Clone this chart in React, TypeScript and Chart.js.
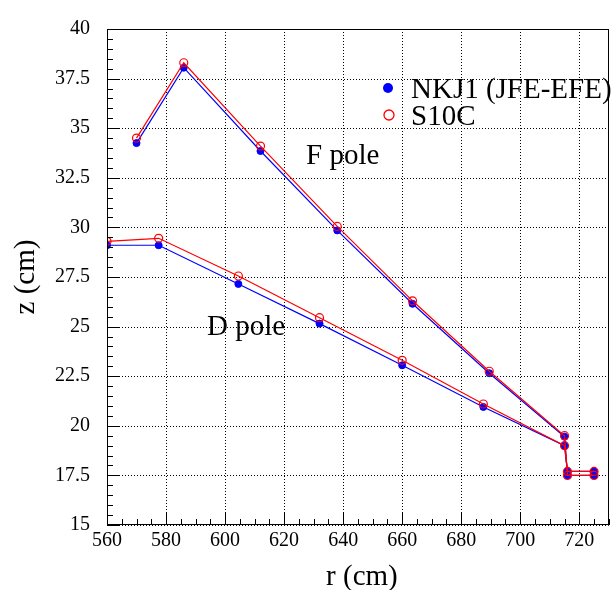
import React, { useEffect, useRef } from "react";
import { Chart, registerables } from "chart.js";

Chart.register(...registerables);

// r positions (cm) of the pole-face profile points
const rFPole = [570, 586, 612, 638, 663.5, 689.5, 715, 716, 725];
const rDPole = [560, 577.5, 604.5, 632, 660, 687.5, 715, 716, 725];

// z (cm) for each magnet type
const zFPoleNKJ1 = [34.25, 38.05, 33.85, 29.85, 26.15, 22.65, 19.45, 17.5, 17.5];
const zFPoleS10C = [34.5, 38.3, 34.1, 30.05, 26.3, 22.75, 19.5, 17.5, 17.5];
const zDPoleNKJ1 = [29.1, 29.1, 27.15, 25.15, 23.05, 20.95, 19.0, 17.7, 17.7];
const zDPoleS10C = [29.3, 29.45, 27.55, 25.45, 23.3, 21.1, 19.0, 17.7, 17.7];

const seriesNames = ["NKJ1 (JFE-EFE)", "S10C"];
const poleLabels = ["F pole", "D pole"];

const xTickValues = [560, 580, 600, 620, 640, 660, 680, 700, 720];
const yTickValues = [15, 17.5, 20, 22.5, 25, 27.5, 30, 32.5, 35, 37.5, 40];

const X_MIN = 560;
const X_MAX = 730;
const Y_MIN = 15;
const Y_MAX = 40;

const FONT = '"Liberation Serif", "Times New Roman", serif';
const BLUE = "#0000ff";
const RED = "#ff0000";

const toPoints = (xs: number[], ys: number[]) => xs.map((x, i) => ({ x, y: ys[i] }));

const decorPlugin = {
  id: "decor",
  beforeDatasetsDraw(chart: any) {
    const { ctx, chartArea: a, scales } = chart;
    const xs = scales.x;
    const ys = scales.y;
    ctx.save();
    ctx.strokeStyle = "#000";
    ctx.lineWidth = 1;
    ctx.setLineDash([1, 2]);
    for (const v of xTickValues) {
      const px = Math.round(xs.getPixelForValue(v)) + 0.5;
      ctx.beginPath();
      ctx.moveTo(px, a.top);
      ctx.lineTo(px, a.bottom);
      ctx.stroke();
    }
    for (const v of yTickValues) {
      const py = Math.round(ys.getPixelForValue(v)) + 0.5;
      ctx.beginPath();
      ctx.moveTo(a.left, py);
      ctx.lineTo(a.right, py);
      ctx.stroke();
    }
    ctx.restore();
  },
  afterDraw(chart: any) {
    const { ctx, chartArea: a, scales } = chart;
    const xs = scales.x;
    const ys = scales.y;
    ctx.save();
    ctx.setLineDash([]);
    ctx.strokeStyle = "#000";
    ctx.lineWidth = 1;

    // frame
    ctx.strokeRect(Math.round(a.left) + 0.5, Math.round(a.top) + 0.5,
      Math.round(a.right - a.left) - 1, Math.round(a.bottom - a.top) - 1);

    // inward ticks on the bottom axis (every 5 cm)
    for (let i = 0; X_MIN + i * 5 <= X_MAX; i++) {
      const v = X_MIN + i * 5;
      const major = xTickValues.includes(v);
      const px = Math.round(xs.getPixelForValue(v)) + 0.5;
      const len = major ? 12 : 6;
      ctx.beginPath();
      ctx.moveTo(px, a.bottom);
      ctx.lineTo(px, a.bottom - len);
      ctx.stroke();
    }
    // inward ticks on the left axis (every 0.5 cm)
    for (let i = 0; Y_MIN + i * 0.5 <= Y_MAX + 1e-9; i++) {
      const v = Y_MIN + i * 0.5;
      const major = yTickValues.some((t) => Math.abs(t - v) < 1e-6);
      const py = Math.round(ys.getPixelForValue(v)) + 0.5;
      const len = major ? 12 : 6;
      ctx.beginPath();
      ctx.moveTo(a.left, py);
      ctx.lineTo(a.left + len, py);
      ctx.stroke();
    }

    // axis titles
    ctx.fillStyle = "#000";
    ctx.font = `29px ${FONT}`;
    ctx.textAlign = "center";
    ctx.textBaseline = "alphabetic";
    ctx.fillText("r (cm)", (a.left + a.right) / 2 + 4, 585);
    ctx.save();
    ctx.translate(34, (a.top + a.bottom) / 2);
    ctx.rotate(-Math.PI / 2);
    ctx.fillText("z (cm)", 0, 0);
    ctx.restore();

    // legend
    ctx.textAlign = "left";
    ctx.beginPath();
    ctx.arc(388, 88, 5, 0, Math.PI * 2);
    ctx.fillStyle = BLUE;
    ctx.fill();
    ctx.beginPath();
    ctx.arc(389, 115, 5, 0, Math.PI * 2);
    ctx.strokeStyle = RED;
    ctx.lineWidth = 1.3;
    ctx.stroke();
    ctx.fillStyle = "#000";
    ctx.fillText(seriesNames[0], 411, 98);
    ctx.fillText(seriesNames[1], 411, 125);

    // pole annotations
    ctx.fillText(poleLabels[0], 306, 164);
    ctx.fillText(poleLabels[1], 207, 335);
    ctx.restore();
  },
};

export default function App() {
  const canvasRef = useRef<HTMLCanvasElement | null>(null);

  useEffect(() => {
    const canvas = canvasRef.current;
    if (!canvas) return;
    const lineDs = (label: string, xs: number[], ys: number[], color: string, filled: boolean) => ({
      label,
      data: toPoints(xs, ys),
      showLine: true,
      borderColor: color,
      backgroundColor: filled ? color : "rgba(0,0,0,0)",
      borderWidth: 1.2,
      pointRadius: filled ? 3.5 : 4,
      pointBorderWidth: filled ? 1 : 1.2,
      pointBorderColor: color,
      pointBackgroundColor: filled ? color : "rgba(0,0,0,0)",
      tension: 0,
    });

    const chart = new Chart(canvas, {
      type: "scatter",
      data: {
        datasets: [
          lineDs(seriesNames[1], rFPole, zFPoleS10C, RED, false),
          lineDs(seriesNames[1], rDPole, zDPoleS10C, RED, false),
          lineDs(seriesNames[0], rFPole, zFPoleNKJ1, BLUE, true),
          lineDs(seriesNames[0], rDPole, zDPoleNKJ1, BLUE, true),
        ],
      },
      options: {
        animation: false,
        responsive: false,
        maintainAspectRatio: false,
        devicePixelRatio: 1,
        layout: { padding: { left: 0, right: 3, top: 20, bottom: 0 } },
        plugins: {
          legend: { display: false },
          tooltip: { enabled: false },
        },
        scales: {
          x: {
            type: "linear",
            min: X_MIN,
            max: X_MAX,
            grid: { display: false, drawTicks: false },
            border: { display: false },
            afterBuildTicks: (s: any) => {
              s.ticks = xTickValues.map((v) => ({ value: v }));
            },
            afterFit: (s: any) => {
              s.height = 65;
            },
            ticks: {
              autoSkip: false,
              maxRotation: 0,
              padding: 4,
              color: "#000",
              font: { family: FONT, size: 20 },
              callback: (v: any) => String(v),
            },
          },
          y: {
            type: "linear",
            min: Y_MIN,
            max: Y_MAX,
            grid: { display: false, drawTicks: false },
            border: { display: false },
            afterBuildTicks: (s: any) => {
              s.ticks = yTickValues.map((v) => ({ value: v }));
            },
            afterFit: (s: any) => {
              s.width = 107;
            },
            ticks: {
              autoSkip: false,
              padding: 17,
              color: "#000",
              font: { family: FONT, size: 20 },
              callback: (v: any) => String(v),
            },
          },
        },
      },
      plugins: [decorPlugin],
    });
    return () => chart.destroy();
  }, []);

  return (
    <div style={{ position: "absolute", left: 0, top: 0, width: 614, height: 590, background: "#fff" }}>
      <canvas ref={canvasRef} width={614} height={590} style={{ width: 614, height: 590, display: "block" }} />
    </div>
  );
}
